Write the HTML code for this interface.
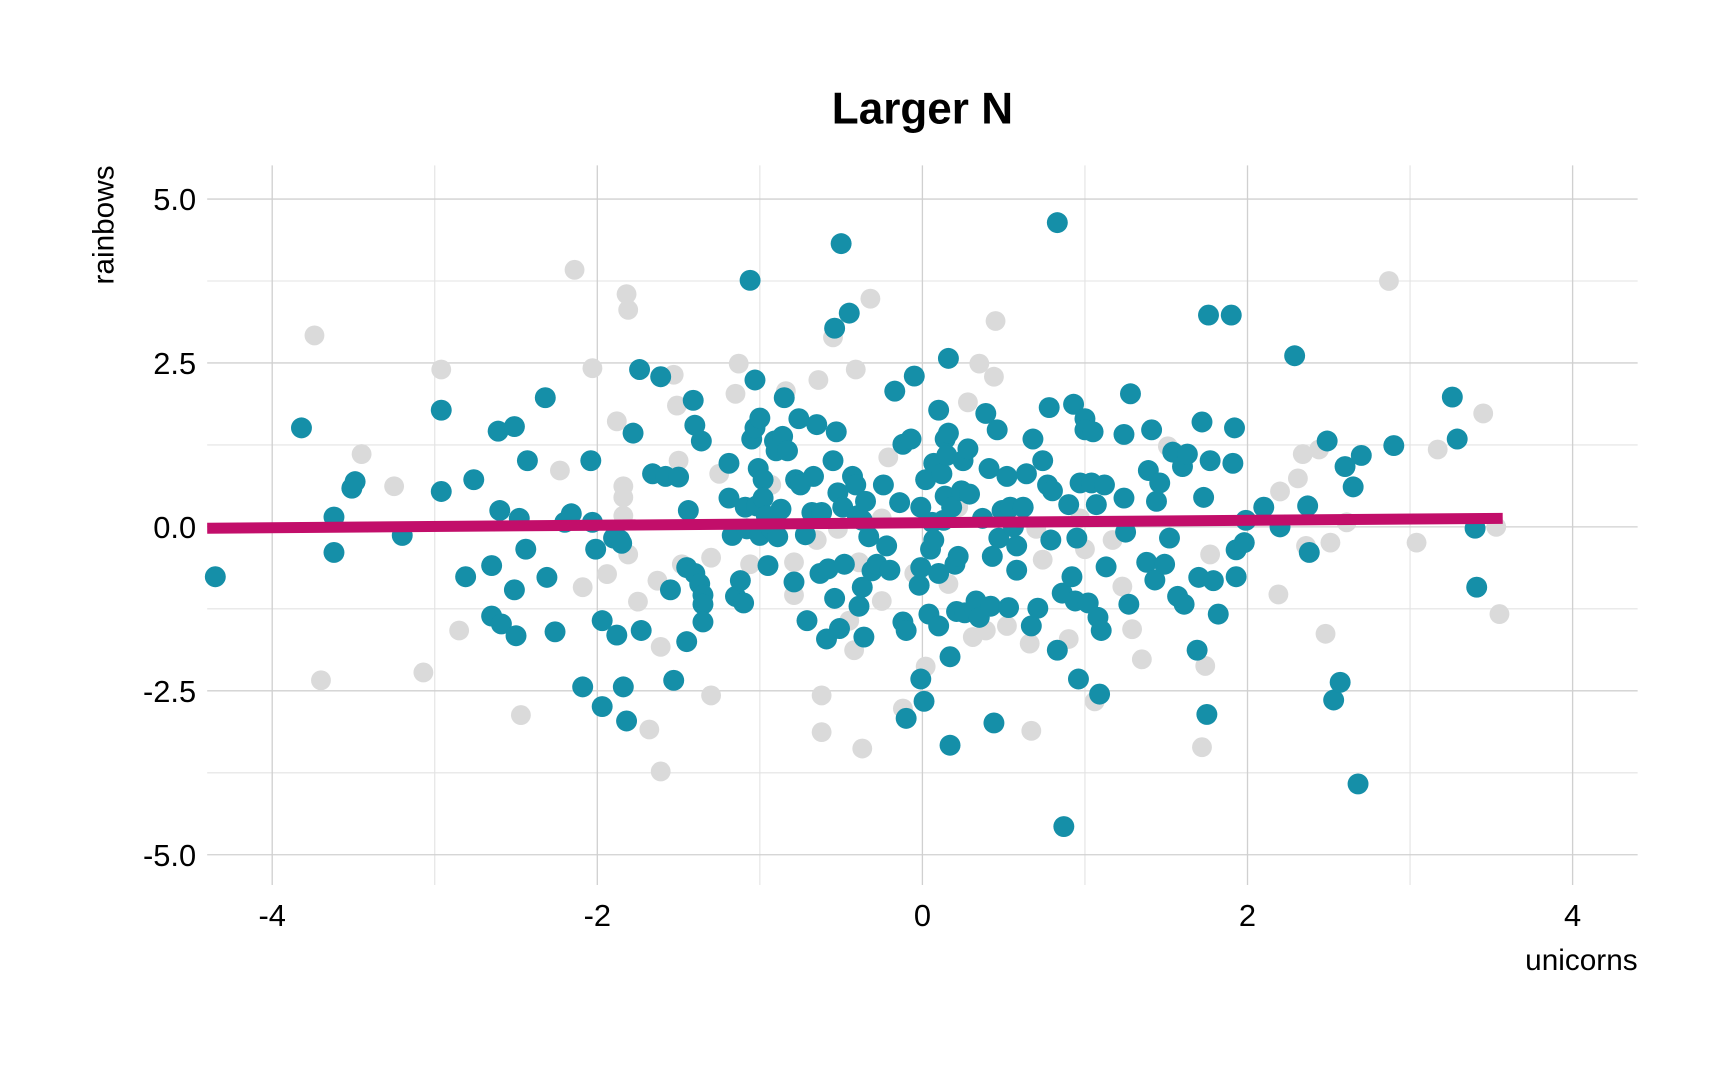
<!DOCTYPE html>
<html><head><meta charset="utf-8"><style>
html,body{margin:0;padding:0;background:#fff;}
svg{display:block;font-family:"Liberation Sans",sans-serif;}
</style></head><body>
<svg id="chart" width="1728" height="1067" viewBox="0 0 1568 968" xmlns="http://www.w3.org/2000/svg">
<rect width="1568" height="968" fill="#fff"/>
<g id="grid"></g>
<g id="gray"></g>
<g id="teal"></g>
<g id="fit"></g>
<g id="axes"></g>
<text x="837" y="112" text-anchor="middle" font-size="40" font-weight="bold" fill="#000">Larger N</text>
<text x="1486" y="880" text-anchor="end" font-size="27" fill="#000">unicorns</text>
<text transform="translate(103,150) rotate(-90)" text-anchor="end" font-size="27" fill="#000">rainbows</text>
</svg>
<script>
const xTicks=[-4,-2,0,2,4];
const xTickLabels=["-4","-2","0","2","4"];
const xMinor=[-3,-1,1,3];
const yTicks=[5,2.5,0,-2.5,-5];
const yTickLabels=["5.0","2.5","0.0","-2.5","-5.0"];
const yMinor=[3.75,1.25,-1.25,-3.75];
const tealX=[-4.35,-3.82,-3.62,-3.62,-3.51,-3.49,-3.2,-2.96,-2.96,-2.81,-2.76,-2.65,-2.65,-2.61,-2.6,-2.59,-2.51,-2.51,-2.5,-2.48,-2.44,-2.43,-2.32,-2.31,-2.26,-2.2,-2.16,-2.09,-2.04,-2.03,-2.01,-1.97,-1.97,-1.9,-1.88,-1.86,-1.85,-1.84,-1.82,-1.78,-1.74,-1.73,-1.66,-1.61,-1.58,-1.55,-1.53,-1.5,-1.45,-1.45,-1.44,-1.41,-1.4,-1.4,-1.37,-1.36,-1.35,-1.35,-1.35,-1.19,-1.19,-1.17,-1.15,-1.12,-1.1,-1.09,-1.08,-1.06,-1.05,-1.03,-1.03,-1.02,-1.01,-1.0,-1.0,-0.98,-0.98,-0.96,-0.95,-0.93,-0.91,-0.9,-0.89,-0.87,-0.86,-0.85,-0.83,-0.79,-0.78,-0.76,-0.75,-0.72,-0.71,-0.68,-0.67,-0.65,-0.63,-0.62,-0.59,-0.58,-0.55,-0.54,-0.54,-0.53,-0.52,-0.51,-0.5,-0.49,-0.48,-0.45,-0.43,-0.41,-0.4,-0.39,-0.37,-0.37,-0.36,-0.35,-0.33,-0.31,-0.28,-0.24,-0.22,-0.2,-0.17,-0.14,-0.12,-0.12,-0.1,-0.1,-0.07,-0.05,-0.02,-0.01,-0.01,-0.01,0.01,0.02,0.04,0.05,0.06,0.07,0.07,0.1,0.1,0.1,0.12,0.13,0.14,0.14,0.15,0.16,0.16,0.17,0.17,0.18,0.2,0.21,0.22,0.24,0.25,0.26,0.28,0.29,0.32,0.33,0.35,0.37,0.39,0.41,0.42,0.43,0.44,0.46,0.47,0.49,0.52,0.53,0.54,0.56,0.58,0.58,0.62,0.64,0.67,0.68,0.71,0.74,0.77,0.78,0.79,0.8,0.83,0.83,0.86,0.87,0.9,0.92,0.93,0.94,0.95,0.96,0.97,1.0,1.0,1.02,1.04,1.05,1.07,1.08,1.09,1.1,1.12,1.13,1.24,1.24,1.25,1.27,1.28,1.38,1.39,1.41,1.43,1.44,1.46,1.49,1.52,1.54,1.57,1.6,1.61,1.63,1.69,1.7,1.72,1.73,1.75,1.76,1.77,1.79,1.82,1.9,1.91,1.92,1.93,1.93,1.98,1.99,2.1,2.2,2.29,2.37,2.38,2.49,2.53,2.57,2.6,2.65,2.68,2.7,2.9,3.26,3.29,3.4,3.41];
const tealY=[-0.76,1.51,0.15,-0.39,0.59,0.69,-0.13,1.78,0.54,-0.76,0.72,-0.59,-1.36,1.46,0.25,-1.48,1.53,-0.96,-1.66,0.13,-0.34,1.01,1.97,-0.77,-1.6,0.07,0.2,-2.44,1.01,0.07,-0.34,-1.43,-2.74,-0.17,-1.65,-0.2,-0.25,-2.44,-2.96,1.43,2.4,-1.58,0.81,2.29,0.77,-0.96,-2.34,0.76,-0.62,-1.75,0.25,1.93,1.55,-0.71,-0.87,1.31,-1.04,-1.18,-1.45,0.97,0.44,-0.13,-1.06,-0.82,-1.16,0.3,-0.03,3.76,1.34,2.24,1.51,0.32,0.89,-0.13,1.66,0.72,0.44,0.17,-0.59,-0.03,1.31,1.16,-0.15,0.27,1.38,1.97,1.16,-0.84,0.72,1.65,0.64,-0.12,-1.43,0.22,0.77,1.56,-0.71,0.22,-1.71,-0.64,1.01,-1.09,3.03,1.45,0.52,-1.55,4.32,0.3,-0.57,3.26,0.77,0.64,0.17,-1.21,-0.92,0.1,-1.68,0.39,-0.15,-0.67,-0.57,0.64,-0.29,-0.66,2.07,0.37,1.26,-1.45,-2.92,-1.58,1.34,2.3,-0.89,-2.32,0.3,-0.62,-2.66,0.72,-1.33,-0.34,0.07,-0.2,0.97,1.78,-1.51,-0.71,0.81,0.1,0.47,1.34,1.09,1.43,2.57,-3.33,-1.98,0.3,-0.57,-1.29,-0.45,0.55,1.01,-1.31,1.19,0.5,-1.26,-1.13,-1.38,0.13,1.73,0.89,-1.21,-0.45,-2.99,1.48,-0.17,0.25,0.77,-1.23,0.3,0.0,-0.29,-0.66,0.3,0.81,-1.51,1.34,-1.24,1.01,0.64,1.82,-0.2,0.55,4.64,-1.88,-1.01,-4.57,0.34,-0.76,1.87,-1.13,-0.17,-2.32,0.67,1.65,1.48,-1.16,0.67,1.45,0.34,-1.38,-2.55,-1.58,0.64,-0.61,1.41,0.44,-0.08,-1.18,2.03,-0.54,0.86,1.48,-0.81,0.39,0.67,-0.57,-0.17,1.14,-1.06,0.92,-1.18,1.11,-1.88,-0.77,1.6,0.45,-2.86,3.23,1.01,-0.82,-1.33,3.23,0.97,1.51,-0.76,-0.35,-0.24,0.1,0.3,0.0,2.61,0.32,-0.39,1.31,-2.64,-2.37,0.92,0.61,-3.92,1.09,1.24,1.98,1.34,-0.02,-0.92];
const grayX=[-3.74,-3.7,-3.45,-3.25,-3.07,-2.96,-2.85,-2.47,-2.23,-2.14,-2.09,-2.03,-1.94,-1.88,-1.84,-1.84,-1.84,-1.82,-1.81,-1.81,-1.75,-1.68,-1.61,-1.61,-1.63,-1.53,-1.51,-1.5,-1.48,-1.3,-1.3,-1.25,-1.13,-1.15,-1.06,-0.84,-0.79,-0.65,-0.64,-0.62,-0.62,-0.55,-0.45,-0.42,-0.41,-0.37,-0.32,-0.25,-0.21,-0.12,-0.05,0.02,0.28,0.35,0.44,0.45,0.31,0.39,0.52,0.66,0.67,0.74,0.9,1.0,1.06,1.23,1.29,1.35,1.51,1.74,1.72,1.77,2.19,2.2,2.31,2.34,2.36,2.44,2.48,2.51,2.61,2.87,3.04,3.17,3.45,3.53,3.55,-0.93,-0.52,-0.25,0.22,0.7,0.97,-0.79,0.16,1.17,-0.39];
const grayY=[2.92,-2.34,1.11,0.62,-2.22,2.4,-1.58,-2.87,0.86,3.92,-0.92,2.42,-0.72,1.61,0.62,0.45,0.17,3.55,3.31,-0.42,-1.14,-3.09,-1.83,-3.73,-0.82,2.32,1.85,1.01,-0.57,-2.57,-0.47,0.81,2.49,2.03,-0.57,2.07,-1.04,-0.2,2.24,-2.57,-3.13,2.89,-1.43,-1.88,2.4,-3.38,3.48,-1.13,1.06,-2.77,-0.71,-2.13,1.9,2.49,2.29,3.14,-1.68,-1.58,-1.51,-1.78,-3.11,-0.5,-1.71,-0.34,-2.66,-0.91,-1.56,-2.02,1.23,-2.12,-3.36,-0.42,-1.03,0.54,0.74,1.11,-0.29,1.18,-1.63,-0.24,0.07,3.75,-0.24,1.18,1.73,0.0,-1.33,0.64,-0.03,0.13,0.3,-0.03,0.13,-0.54,-0.87,-0.2,-0.54];
const fitX=[-4.4,3.57];
const fitY=[-0.02,0.13];

const NS="http://www.w3.org/2000/svg";
const X0=188,X1=1486,Y0=150,Y1=803;
function sx(v){return 837+v*147.5;}
function sy(v){return 478-v*59.5;}
function mk(tag,attrs,parent){const e=document.createElementNS(NS,tag);for(const k in attrs)e.setAttribute(k,attrs[k]);parent.appendChild(e);return e;}
const grid=document.getElementById('grid');
xMinor.forEach(v=>{const l=mk('line',{x1:sx(v),x2:sx(v),y1:Y0,y2:Y1,stroke:'#e3e3e3','stroke-width':1},grid);

});
yMinor.forEach(v=>{const l=mk('line',{x1:X0,x2:X1,y1:sy(v),y2:sy(v),stroke:'#e3e3e3','stroke-width':1},grid);

});
xTicks.forEach(v=>{const l=mk('line',{x1:sx(v),x2:sx(v),y1:Y0,y2:Y1,stroke:'#d0d0d0','stroke-width':1.2},grid);

});
yTicks.forEach(v=>{const l=mk('line',{x1:X0,x2:X1,y1:sy(v),y2:sy(v),stroke:'#d0d0d0','stroke-width':1.2},grid);

});
const axes=document.getElementById('axes');
xTicks.forEach((v,i)=>{const t=mk('text',{x:sx(v),y:840,'text-anchor':'middle','font-size':28,fill:'#000'},axes);t.textContent=xTickLabels[i];

});
yTicks.forEach((v,i)=>{const t=mk('text',{x:178,y:sy(v)+10,'text-anchor':'end','font-size':28,fill:'#000'},axes);t.textContent=yTickLabels[i];

});
const gg=document.getElementById('gray');
grayX.forEach((v,i)=>{const c=mk('circle',{cx:sx(v),cy:sy(grayY[i]),r:9,fill:'#dadada'},gg);

});
const tg=document.getElementById('teal');
tealX.forEach((v,i)=>{const c=mk('circle',{cx:sx(v),cy:sy(tealY[i]),r:9.5,fill:'#158fa8'},tg);

});
const fg=document.getElementById('fit');
const fl=mk('line',{x1:sx(fitX[0]),y1:sy(fitY[0]),x2:sx(fitX[1]),y2:sy(fitY[1]),stroke:'#c20e6a','stroke-width':10},fg);


</script>
</body></html>
